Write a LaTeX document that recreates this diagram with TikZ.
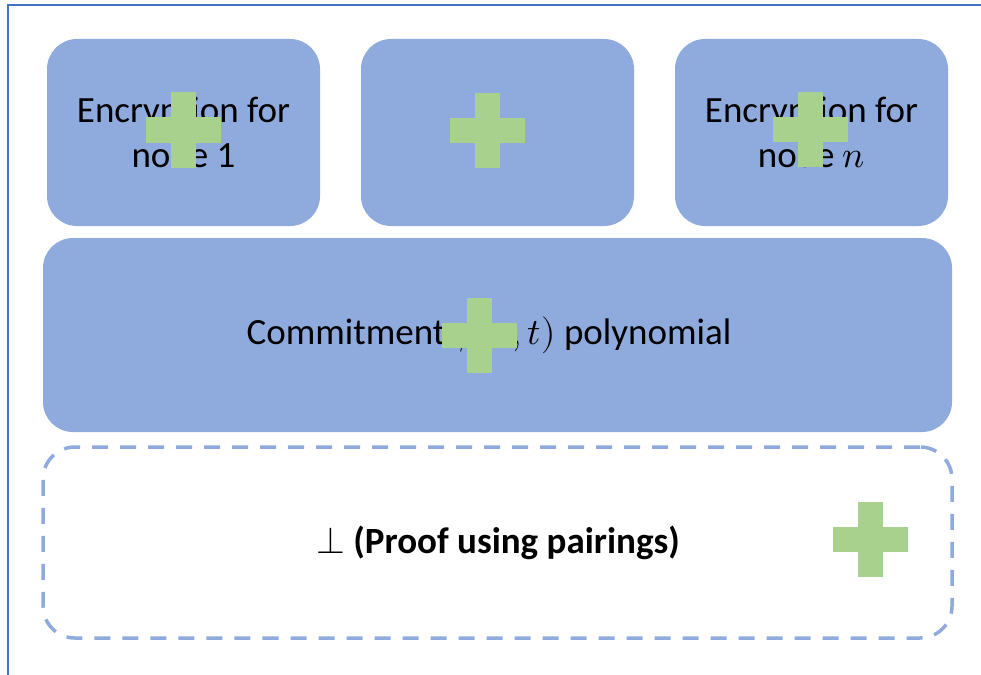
\documentclass[tikz,border=0pt]{standalone}
\usepackage{fontspec}
\usepackage{unicode-math}
\setmainfont{Carlito}
\setmathfont{Latin Modern Math}
\definecolor{boxblue}{HTML}{8FAADC}
\definecolor{plusgreen}{HTML}{A9D18E}
\definecolor{frameblue}{HTML}{4472C4}
\tikzset{
  bluebox/.style={fill=boxblue, draw=none, rounded corners=30pt, inner sep=0pt},
  dashbox/.style={draw=boxblue, line width=3.5pt, dash pattern=on 16pt off 12pt, rounded corners=32pt, inner sep=0pt},
  txt/.style={align=center, font=\fontsize{37}{45}\selectfont, text=black},
  greenplus/.pic={
    \fill[plusgreen] (-37.5,-12.75) rectangle (37.5,12.75);
    \fill[plusgreen] (-12.75,-37.5) rectangle (12.75,37.5);
  }
}
\begin{document}
\begin{tikzpicture}[x=1pt,y=-1pt]
\useasboundingbox (0,0) rectangle (981,674);
\clip (0,0) rectangle (981,674);
\draw[frameblue, line width=2pt] (8,5) rectangle (1000,700);

\node[bluebox, minimum width=273pt, minimum height=187pt] (b1) at (183.5,132.5) {};
\node[bluebox, minimum width=273pt, minimum height=187pt] (b2) at (497.5,132.5) {};
\node[bluebox, minimum width=273pt, minimum height=187pt] (b3) at (811.5,132.5) {};
\node[bluebox, minimum width=909pt, minimum height=194pt] (big) at (497.5,335) {};
\node[dashbox, minimum width=909pt, minimum height=191pt] (proof) at (497.5,542.5) {};

\node[txt] (t1) at (183.5,132.5) {Encryption for\\node 1};
\node[txt] (t3) at (811.5,132.5) {Encryption for\\node $n$};
\node[txt] (tc) at (489,335) {Commitment $\phi(x,t)$ polynomial};
\node[txt] (tp) at (498,542.5) {$\perp$ \textbf{(Proof using pairings)}};

\pic at (183.5,130) {greenplus};
\pic at (487.5,130.5) {greenplus};
\pic at (810.5,129.5) {greenplus};
\pic at (479.5,335.5) {greenplus};
\pic at (870.5,539.5) {greenplus};
\end{tikzpicture}
\end{document}
